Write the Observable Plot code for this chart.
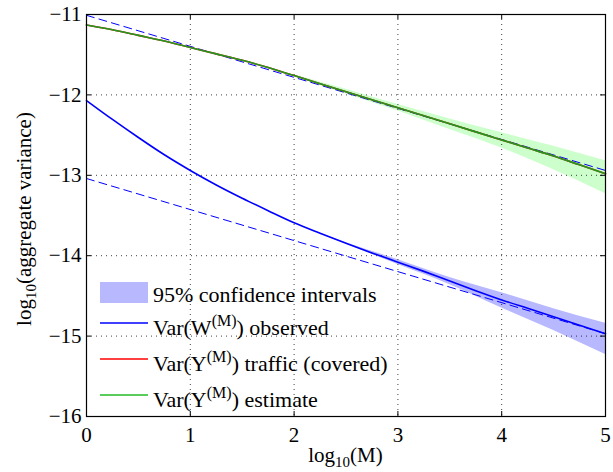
<!DOCTYPE html>
<html><head><meta charset="utf-8">
<script src="https://cdn.jsdelivr.net/npm/d3@7"></script>
<script src="https://cdn.jsdelivr.net/npm/@observablehq/plot@0.6"></script>
<style>
body{margin:0;background:#fff}
svg, svg text{font-family:'Liberation Serif','Times New Roman','DejaVu Serif',serif !important}
</style>
</head><body><div id="chart"></div>
<script>
// ---- data ----
const xs = [0,0.25,0.5,0.75,1,1.25,1.5,1.75,2,2.25,2.5,2.75,3,3.25,3.5,3.75,4,4.25,4.5,4.75,5];
const varW = [-12.07,-12.305,-12.53,-12.745,-12.94,-13.12,-13.285,-13.44,-13.59,-13.72,-13.845,-13.965,-14.08,-14.195,-14.315,-14.435,-14.55,-14.655,-14.76,-14.865,-14.97];
const varYTraffic = [-11.13,-11.19,-11.26,-11.33,-11.41,-11.49,-11.57,-11.66,-11.76,-11.86,-11.96,-12.06,-12.16,-12.26,-12.36,-12.46,-12.56,-12.66,-12.76,-12.87,-12.98];
const varYEstimate = [-11.13,-11.19,-11.26,-11.33,-11.41,-11.49,-11.57,-11.66,-11.76,-11.86,-11.96,-12.06,-12.16,-12.26,-12.36,-12.46,-12.56,-12.66,-12.76,-12.87,-12.98];

const bandX = [2,2.5,3,3.5,4,4.5,5];
const wLow  = [-13.59,-13.855,-14.11,-14.36,-14.65,-14.93,-15.23];
const wHigh = [-13.59,-13.84,-14.05,-14.27,-14.46,-14.66,-14.84];
const yLow  = [-11.77,-11.99,-12.20,-12.43,-12.66,-12.93,-13.23];
const yHigh = [-11.75,-11.93,-12.12,-12.30,-12.47,-12.64,-12.82];

const fitX = [0,5];
const fitUpper = [-11.01,-12.94];
const fitLower = [-13.04,-14.97];

const xTicks = [0,1,2,3,4,5];
const yTicks = [-16,-15,-14,-13,-12,-11];
const xGrid = [1,2,3,4];
const yGrid = [-15,-14,-13,-12];

const legendLabels = ["95% confidence intervals","observed","traffic (covered)","estimate"];

// ---- tables ----
const curves = xs.map((x,i)=>({x, w:varW[i], yt:varYTraffic[i], ye:varYEstimate[i]}));
const bands = bandX.map((x,i)=>({x, wl:wLow[i], wh:wHigh[i], yl:yLow[i], yh:yHigh[i]}));
const fits = fitX.map((x,i)=>({x, u:fitUpper[i], l:fitLower[i]}));

const W = 613, H = 472, mL = 86, mR = 8, mT = 14, mB = 56;
const plotH = H - mT - mB;
const plotW = W - mL - mR;
const tickLen = 5;
const font = "'Liberation Serif','Times New Roman','DejaVu Serif',serif";
const fmt = d => (d < 0 ? "\u2212" : "") + Math.abs(d);
const cv = "monotone-x";

const svg = Plot.plot({
  width: W, height: H,
  marginLeft: mL, marginRight: mR, marginTop: mT, marginBottom: mB,
  style: {fontFamily: font, fontSize: "21px", background: "white", color: "black"},
  x: {domain: [0,5]},
  y: {domain: [-16,-11]},
  marks: [
    Plot.areaY(bands, {x:"x", y1:"yl", y2:"yh", fill:"#ccffcc", curve: cv}),
    Plot.areaY(bands, {x:"x", y1:"wl", y2:"wh", fill:"#b8b8ff", curve: cv}),
    Plot.gridX(xGrid, {stroke:"#000", strokeOpacity:0.75, strokeDasharray:"1,4"}),
    Plot.gridY(yGrid, {stroke:"#000", strokeOpacity:0.75, strokeDasharray:"1,4"}),
    Plot.line(fits, {x:"x", y:"u", stroke:"#0000ff", strokeWidth:1, strokeDasharray:"8,5"}),
    Plot.line(fits, {x:"x", y:"l", stroke:"#0000ff", strokeWidth:1, strokeDasharray:"8,5"}),
    Plot.line(curves, {x:"x", y:"w", stroke:"#0000ff", strokeWidth:1.6, curve: cv}),
    Plot.line(curves, {x:"x", y:"yt", stroke:"#ff0000", strokeWidth:1.6, curve: cv}),
    Plot.line(curves, {x:"x", y:"ye", stroke:"#1f9a1f", strokeWidth:1.6, curve: cv}),
    Plot.frame({stroke:"#000", strokeWidth:1.2}),
    Plot.tickX(xTicks, {x:d=>d, insetTop: plotH - tickLen, stroke:"#000"}),
    Plot.tickX(xTicks, {x:d=>d, insetBottom: plotH - tickLen, stroke:"#000"}),
    Plot.tickY(yTicks, {y:d=>d, insetRight: plotW - tickLen, stroke:"#000"}),
    Plot.tickY(yTicks, {y:d=>d, insetLeft: plotW - tickLen, stroke:"#000"}),
    Plot.axisX(xTicks, {tickSize:0, tickPadding:11, label:null, fontSize:21, tickFormat: fmt}),
    Plot.axisY(yTicks, {tickSize:0, tickPadding:5, label:null, fontSize:21, tickFormat: fmt})
  ]
});
document.getElementById("chart").appendChild(svg);

// ---- axis titles with subscripts ----
const s = d3.select(svg);
const xl = s.append("text").attr("x", mL + plotW/2).attr("y", 462)
  .attr("text-anchor","middle").attr("font-size",21).attr("fill","#000");
xl.append("tspan").text("log");
xl.append("tspan").attr("dy",5).attr("font-size",15).text("10");
xl.append("tspan").attr("dy",-5).text("(M)");

const yl = s.append("text").attr("transform","translate(31,219) rotate(-90)")
  .attr("text-anchor","middle").attr("font-size",21).attr("fill","#000");
yl.append("tspan").text("log");
yl.append("tspan").attr("dy",5).attr("font-size",15).text("10");
yl.append("tspan").attr("dy",-5).text("(aggregate variance)");

// ---- legend ----
const lg = s.append("g").attr("font-size",22).attr("fill","#000").attr("text-anchor","start");
lg.append("rect").attr("x",100).attr("y",282).attr("width",48).attr("height",21).attr("fill","#b8b8ff");
lg.append("text").attr("x",153).attr("y",302).attr("text-anchor","start").text(legendLabels[0]);
const rows = [
  {y:323, color:"#0000ff", letter:"W", label:legendLabels[1]},
  {y:359, color:"#ff0000", letter:"Y", label:legendLabels[2]},
  {y:395, color:"#22bb22", letter:"Y", label:legendLabels[3]}
];
rows.forEach(r=>{
  lg.append("line").attr("x1",100).attr("x2",148).attr("y1",r.y).attr("y2",r.y)
    .attr("stroke",r.color).attr("stroke-width",1.6);
  const t = lg.append("text").attr("x",153).attr("y",r.y+12).attr("text-anchor","start");
  t.append("tspan").text("Var(" + r.letter);
  t.append("tspan").attr("dy",-9).attr("font-size",16).text("(M)");
  t.append("tspan").attr("dy",9).text(") " + r.label);
});
</script>
</body></html>
